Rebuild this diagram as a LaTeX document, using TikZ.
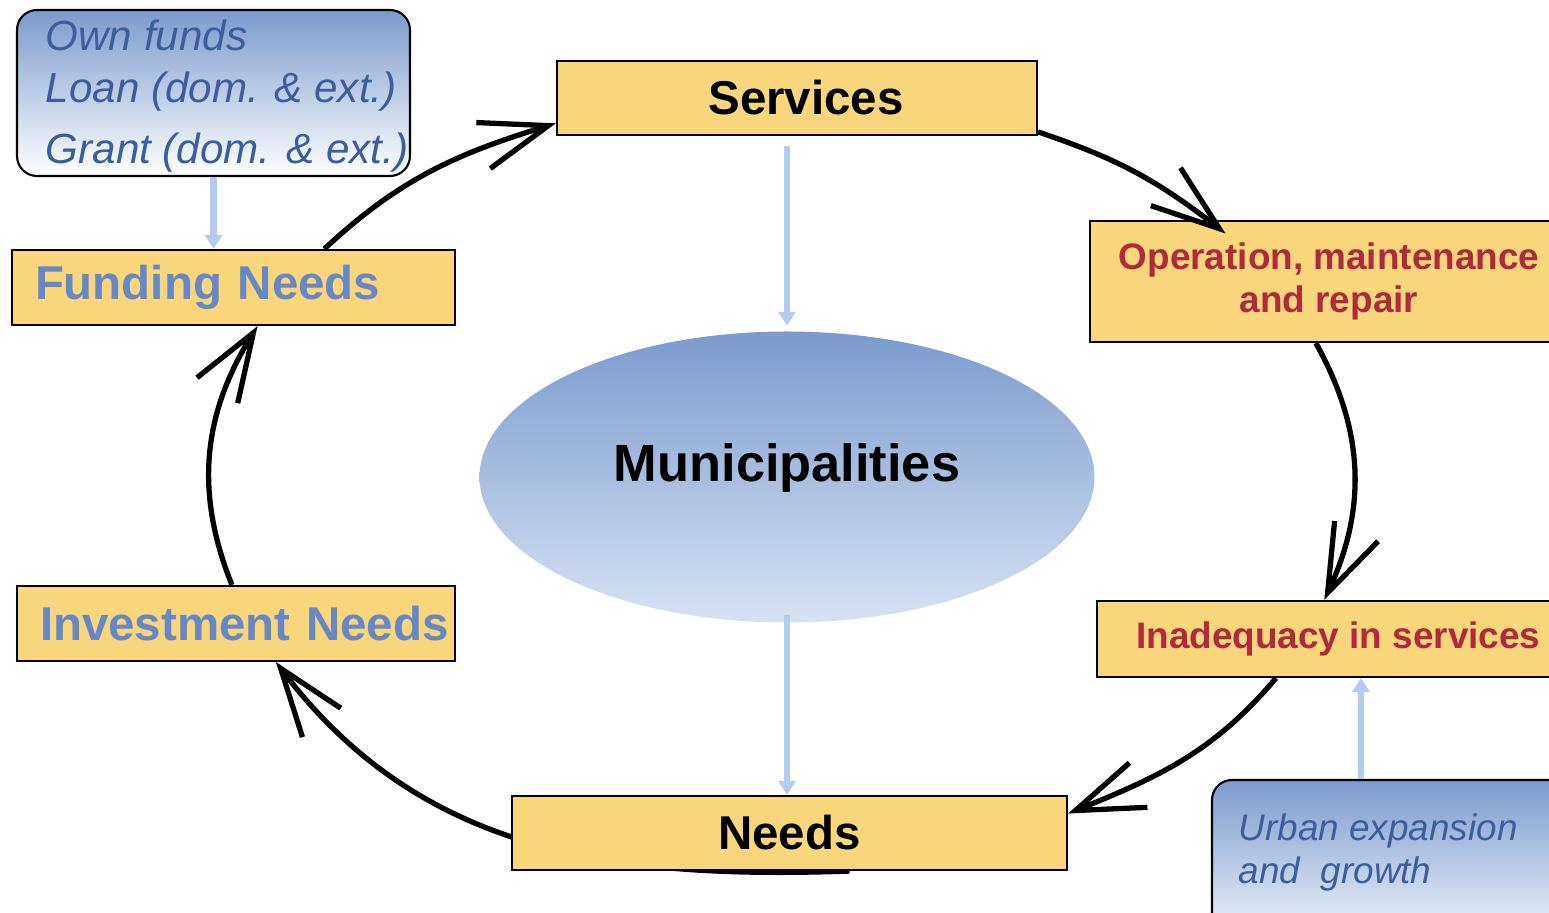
\documentclass[tikz,border=0pt]{standalone}
\usepackage{fontspec}
\setmainfont{Liberation Sans}
\usetikzlibrary{arrows.meta,shapes.geometric,backgrounds}

\definecolor{boxfill}{HTML}{F9D57B}
\definecolor{needblue}{HTML}{6688C7}
\definecolor{opred}{HTML}{AF2A3B}
\definecolor{srcblue}{HTML}{3A5E9E}
\definecolor{shadetop}{HTML}{7B9BCE}
\definecolor{munibottom}{HTML}{D7E2F2}
\definecolor{feedblue}{HTML}{B3CCF0}

\tikzset{
  stage/.style={draw=black, line width=0.6pt, fill=boxfill, inner sep=0pt},
  mainstage/.style={stage, font=\fontsize{13.5}{16}\selectfont\bfseries},
  needstage/.style={stage, font=\fontsize{13.5}{16}\selectfont\bfseries, text=needblue, align=left, inner xsep=0.23cm, minimum height=0.75cm},
  opstage/.style={stage, font=\fontsize{10.5}{12.2}\selectfont\bfseries, text=opred, align=center},
  source/.style={draw=black, line width=0.6pt, rounded corners=0.2cm, top color=shadetop, bottom color=white},
  sourcetext/.style={font=\fontsize{12}{14.8}\selectfont\itshape, text=srcblue, align=left, inner sep=0pt},
  loopedge/.style={line width=1.5pt, -{Straight Barb[length=0.68cm, width=0.48cm]}},
  feed/.style={draw=feedblue, line width=1.9pt, -{Triangle[length=0.14cm, width=0.17cm]}}
}

\begin{document}
\begin{tikzpicture}
    \useasboundingbox (0,0) rectangle (15.49,-9.13);
    \node[source, minimum width=3.93cm, minimum height=1.66cm] (own) at (2.135,-0.93) {};
    \node[sourcetext, anchor=north west] (ownlist) at (0.45,-0.195) {Own funds\\Loan (dom. \& ext.)\\[0.09cm]Grant (dom. \& ext.)};
    \node[needstage, text width=3.97cm] (fund) at (2.335,-2.875) {Funding Needs};
    \node[needstage, text width=3.92cm] (inv) at (2.36,-6.235) {\mbox{Investment Needs}};
    \node[mainstage, minimum width=4.80cm, minimum height=0.74cm] (serv) at (7.97,-0.98) {\hspace*{0.18cm}Services};
    \node[opstage, minimum width=4.78cm, minimum height=1.21cm] (oper) at (13.29,-2.815) {Operation, maintenance\\and repair};
    \node[opstage, minimum width=4.83cm, minimum height=0.76cm] (inad) at (13.385,-6.39) {Inadequacy in services};
    \node[mainstage, minimum width=5.55cm, minimum height=0.74cm] (needs) at (7.895,-8.33) {Needs};
    \node[ellipse, top color=shadetop, bottom color=munibottom, minimum width=6.15cm, minimum height=2.91cm, inner sep=0pt, text depth=0.28cm, font=\fontsize{14.9}{18}\selectfont\bfseries] (muni) at (7.87,-4.77) {Municipalities};
    \node[source, minimum width=3.88cm, minimum height=1.80cm] (urb) at (14.06,-8.70) {};
    \node[sourcetext, font=\fontsize{10.5}{12.2}\selectfont\itshape, anchor=north west] (urblist) at (12.38,-8.13) {Urban expansion\\and\ \ growth};
    \draw[feed] (own.south) -- (own.south |- fund.north);
    \draw[feed, shorten <=0.1cm, shorten >=0.05cm] (serv.south -| muni.north) -- (muni.north);
    \draw[feed, shorten <=-0.08cm] (muni.south) -- (muni.south |- needs.north);
    \draw[feed] ([xshift=1.5cm]urb.north west) -- ([xshift=1.5cm]urb.north west |- inad.south);
    \draw[loopedge] (fund.23) to[out=43, in=197] (serv.186);
    \draw[loopedge, shorten >=-0.22cm] (serv.352) to[out=-19, in=142] (oper.153);
    \draw[loopedge] (oper.258) to[out=-61, in=65] (inad.110);
    \draw[loopedge] (inad.212) to[out=-130, in=22] (needs.4);
    \begin{pgfonlayer}{background}
        \draw[loopedge] ([xshift=0.6cm]needs.south) to[out=182, in=-53] (inv.316);
    \end{pgfonlayer}
    \draw[loopedge] (inv.96) to[out=112, in=238] (fund.302);
\end{tikzpicture}
\end{document}
